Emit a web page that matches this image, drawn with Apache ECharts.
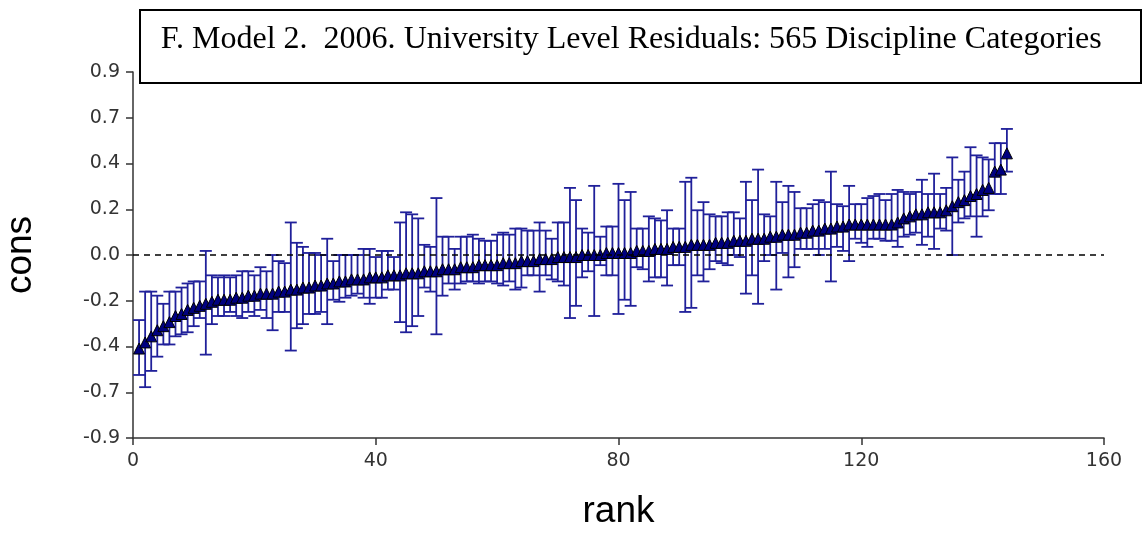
<!DOCTYPE html>
<html>
<head>
<meta charset="utf-8">
<script src="https://cdn.jsdelivr.net/npm/echarts@6/dist/echarts.min.js"></script>
<style>
html,body{margin:0;padding:0;background:#fff;}
#chart{width:1148px;height:533px;}
</style>
</head>
<body>
<div id="chart"></div>
<script>
// ---- data ----
const titleText = 'F. Model 2.  2006. University Level Residuals: 565 Discipline Categories';
const xTickLabels = ['0', '40', '80', '120', '160'];
const yTickLabels = ['-0.9', '-0.7', '-0.4', '-0.2', '0.0', '0.2', '0.4', '0.7', '0.9'];

// residual estimate (cons), sorted by rank 1..144
const cons = [
  -0.46,-0.43,-0.40,-0.37,-0.35,-0.33,-0.30,-0.29,-0.27,-0.26,-0.25,-0.24,-0.23,-0.22,-0.22,-0.22,-0.21,-0.21,-0.20,-0.20,-0.19,-0.19,-0.19,
  -0.18,-0.18,-0.17,-0.17,-0.16,-0.16,-0.15,-0.15,-0.14,-0.14,-0.13,-0.13,-0.12,-0.12,-0.12,-0.11,-0.11,-0.11,-0.10,-0.10,-0.10,-0.09,-0.09,-0.09,
  -0.08,-0.08,-0.08,-0.07,-0.07,-0.07,-0.06,-0.06,-0.06,-0.05,-0.05,-0.05,-0.05,-0.04,-0.04,-0.04,-0.03,-0.03,-0.03,-0.02,-0.02,-0.02,-0.01,-0.01,
  -0.01,-0.01,0.00,0.00,0.00,0.00,0.01,0.01,0.01,0.01,0.01,0.02,0.02,0.02,0.03,0.03,0.03,0.04,0.04,0.04,0.05,0.05,0.05,0.05,
  0.06,0.06,0.06,0.07,0.07,0.07,0.08,0.08,0.08,0.09,0.09,0.10,0.10,0.10,0.11,0.11,0.12,0.12,0.13,0.13,0.14,0.14,0.15,
  0.15,0.15,0.15,0.15,0.15,0.15,0.15,0.16,0.18,0.19,0.20,0.20,0.21,0.21,0.21,0.22,0.24,0.26,0.27,0.29,0.30,0.32,0.33,0.41,0.42,0.50
];
// lower end of the interval
const lower = [
  -0.59,-0.65,-0.57,-0.50,-0.44,-0.44,-0.40,-0.39,-0.38,-0.35,-0.31,-0.49,-0.34,-0.30,-0.30,-0.28,-0.30,-0.31,-0.28,-0.30,-0.27,-0.31,-0.37,
  -0.28,-0.28,-0.47,-0.36,-0.34,-0.29,-0.29,-0.28,-0.34,-0.22,-0.23,-0.21,-0.20,-0.19,-0.21,-0.24,-0.21,-0.21,-0.17,-0.17,-0.33,-0.38,-0.35,-0.30,
  -0.16,-0.18,-0.39,-0.20,-0.14,-0.17,-0.14,-0.13,-0.13,-0.14,-0.13,-0.13,-0.14,-0.15,-0.13,-0.17,-0.16,-0.10,-0.10,-0.18,-0.10,-0.12,-0.13,-0.15,
  -0.31,-0.25,-0.11,-0.08,-0.30,-0.05,-0.10,-0.10,-0.29,-0.22,-0.25,-0.06,-0.07,-0.13,-0.11,-0.11,-0.15,-0.05,-0.05,-0.28,-0.26,-0.10,-0.13,-0.07,
  -0.03,-0.04,-0.05,0.00,-0.01,-0.19,-0.10,-0.24,-0.03,0.00,-0.17,0.01,-0.11,-0.06,0.03,0.03,0.03,0.00,0.03,-0.13,0.04,0.02,-0.03,
  0.08,0.06,0.04,0.08,0.08,0.07,0.07,0.04,0.09,0.10,0.11,0.05,0.09,0.03,0.13,0.12,0.00,0.16,0.18,0.19,0.09,0.19,0.22,0.30,0.30,0.41
];
// upper end of the interval
const upper = [
  -0.32,-0.18,-0.18,-0.20,-0.24,-0.18,-0.18,-0.16,-0.14,-0.13,-0.13,0.02,-0.10,-0.11,-0.10,-0.11,-0.10,-0.08,-0.08,-0.10,-0.06,-0.08,0.00,
  -0.03,-0.04,0.16,0.06,0.04,0.01,0.01,0.00,0.08,-0.03,0.00,0.00,0.00,0.00,0.03,0.03,-0.01,0.02,0.02,-0.01,0.16,0.21,0.20,0.18,
  0.05,0.04,0.28,0.09,0.09,0.03,0.09,0.09,0.10,0.08,0.07,0.07,0.10,0.11,0.10,0.13,0.13,0.12,0.12,0.16,0.12,0.08,0.16,0.16,
  0.33,0.27,0.13,0.11,0.34,0.09,0.14,0.14,0.35,0.27,0.31,0.13,0.13,0.19,0.18,0.17,0.22,0.13,0.13,0.36,0.38,0.22,0.26,0.20,
  0.19,0.19,0.21,0.21,0.18,0.36,0.27,0.42,0.20,0.19,0.36,0.26,0.34,0.31,0.23,0.23,0.25,0.27,0.26,0.41,0.25,0.24,0.34,
  0.25,0.25,0.28,0.29,0.30,0.27,0.30,0.32,0.31,0.30,0.31,0.37,0.30,0.40,0.30,0.33,0.48,0.37,0.41,0.53,0.49,0.48,0.47,0.55,0.55,0.62
];

// ---- chart ----
const BAR_COLOR = '#20209a';
const pointData = cons.map((v, i) => [i + 1, v]);
const barData = cons.map((v, i) => [i + 1, lower[i], upper[i]]);

const chart = echarts.init(document.getElementById('chart'), null, {renderer: 'canvas'});

const TITLE_FONT = '32px "Liberation Serif", "Times New Roman", serif';
const ctx = document.createElement('canvas').getContext('2d');
ctx.font = TITLE_FONT;
const titleW = ctx.measureText(titleText).width;
const titleScale = 941 / titleW;

const TICK_FONT = '"DejaVu Sans", Arial, sans-serif';

chart.setOption({
  animation: false,
  backgroundColor: '#fff',
  grid: {left: 133, right: 44, top: 72, bottom: 95, containLabel: false, outerBoundsMode: 'none'},
  xAxis: {
    type: 'value', min: 0, max: 160, interval: 40,
    name: 'rank', nameLocation: 'middle', nameGap: 55,
    nameTextStyle: {fontFamily: '"Liberation Sans", Arial, sans-serif', fontSize: 37, color: '#000'},
    axisLine: {show: true, onZero: false, lineStyle: {color: '#333', width: 1.5}},
    axisTick: {show: true, inside: false, length: 7, lineStyle: {color: '#333', width: 1.5}},
    axisLabel: {
      margin: 14, fontFamily: TICK_FONT, fontSize: 19, color: '#333',
      formatter: v => xTickLabels[Math.round(v / 40)]
    },
    splitLine: {show: false}
  },
  yAxis: {
    type: 'value', min: -0.9, max: 0.9, interval: 0.225,
    name: 'cons', nameLocation: 'middle', nameGap: 94, nameRotate: 90,
    nameTextStyle: {fontFamily: '"Liberation Sans", Arial, sans-serif', fontSize: 37, color: '#000'},
    axisLine: {show: true, onZero: false, lineStyle: {color: '#333', width: 1.5}},
    axisTick: {show: true, inside: false, length: 7, lineStyle: {color: '#333', width: 1.5}},
    axisLabel: {
      margin: 13, fontFamily: TICK_FONT, fontSize: 19, color: '#333',
      formatter: v => yTickLabels[Math.round((v + 0.9) / 0.225)]
    },
    splitLine: {show: false}
  },
  series: [
    {
      type: 'custom',
      name: 'interval',
      data: barData,
      encode: {x: 0, y: [1, 2]},
      z: 2,
      renderItem: function (params, api) {
        const x = api.value(0);
        const pLo = api.coord([x, api.value(1)]);
        const pHi = api.coord([x, api.value(2)]);
        const hw = 6;
        const st = {stroke: BAR_COLOR, lineWidth: 1.8};
        return {
          type: 'group',
          children: [
            {type: 'line', shape: {x1: pHi[0], y1: pHi[1], x2: pLo[0], y2: pLo[1]}, style: st},
            {type: 'line', shape: {x1: pHi[0] - hw, y1: pHi[1], x2: pHi[0] + hw, y2: pHi[1]}, style: st},
            {type: 'line', shape: {x1: pLo[0] - hw, y1: pLo[1], x2: pLo[0] + hw, y2: pLo[1]}, style: st}
          ]
        };
      }
    },
    {
      type: 'scatter',
      name: 'cons',
      data: pointData,
      symbol: 'triangle',
      symbolSize: 11,
      z: 3,
      itemStyle: {color: '#000080', borderColor: '#000', borderWidth: 1, opacity: 1},
      markLine: {
        silent: true,
        symbol: ['none', 'none'],
        label: {show: false},
        lineStyle: {color: '#000', type: [6, 5], width: 1.5},
        data: [{yAxis: 0}]
      }
    }
  ],
  graphic: [
    {
      type: 'rect', z: 100,
      shape: {x: 140, y: 10, width: 1001, height: 73},
      style: {fill: '#fff', stroke: '#000', lineWidth: 2}
    },
    {
      type: 'text', z: 101,
      x: 160.7, y: 40, scaleX: titleScale,
      style: {text: titleText, font: TITLE_FONT, fill: '#000', textAlign: 'left', textVerticalAlign: 'middle'}
    }
  ]
});
</script>
</body>
</html>
